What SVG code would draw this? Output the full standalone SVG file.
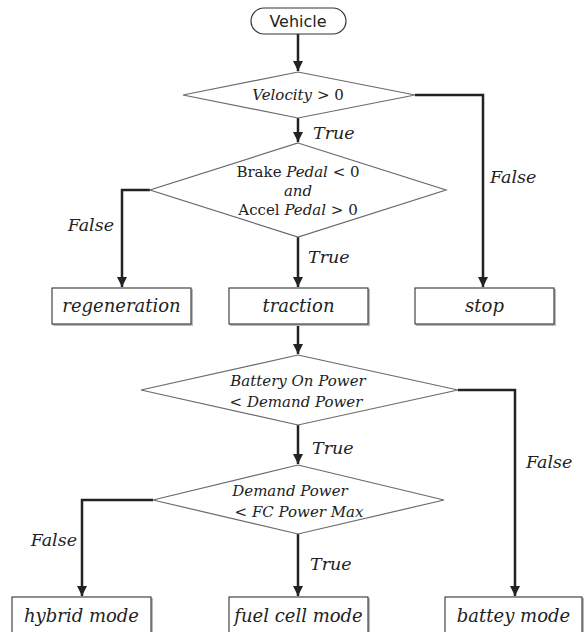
<svg xmlns="http://www.w3.org/2000/svg" width="588" height="632" viewBox="0 0 588 632">
<defs>
<marker id="ah" viewBox="0 0 10 10" refX="10" refY="5" markerWidth="4" markerHeight="4" orient="auto" markerUnits="strokeWidth">
<path d="M0,0 L10,5 L0,10 z" fill="#222"/>
</marker>
<style>
.bg{fill:#fff}
.dia{fill:#fff;stroke:#6a6a6a;stroke-width:1.2}
.box{fill:#fff;stroke:#333;stroke-width:1.1}
.sh{fill:#bbb}
.term{fill:#fff;stroke:#333;stroke-width:1.2}
.con{fill:none;stroke:#222;stroke-width:2.5;marker-end:url(#ah)}
.m{font-family:"DejaVu Serif",serif;font-style:italic;fill:#222}
.up{font-style:normal}
.bt{font-size:18px;text-anchor:middle}
.dt{font-size:15px;text-anchor:middle}
.lb{font-size:17.5px}
.sans{font-family:"DejaVu Sans",sans-serif;font-size:16px;fill:#222;text-anchor:middle}
</style>
</defs>
<rect class="bg" width="588" height="632"/>

<g id="connectors">
<path class="con" d="M298,34 V71"/>
<path class="con" d="M298,118 V142"/>
<path class="con" d="M415,95 H483 V287"/>
<path class="con" d="M150,190 H122 V287"/>
<path class="con" d="M298,237 V287"/>
<path class="con" d="M298,325 V354"/>
<path class="con" d="M458,390 H515 V596"/>
<path class="con" d="M298,425 V464"/>
<path class="con" d="M153,500 H82 V596"/>
<path class="con" d="M298,534 V596"/>
</g>

<g id="vehicle">
<rect class="term" x="251" y="8" width="95" height="26" rx="13" ry="13"/>
<text class="sans" x="298" y="27">Vehicle</text>
</g>

<g id="d-velocity">
<polygon class="dia" points="298,72 415,95 298,118 183,95"/>
<text class="m dt" x="298" y="100">Velocity <tspan class="up">&gt; 0</tspan></text>
</g>

<g id="d-pedal">
<polygon class="dia" points="298,143 446,190 298,237 150,190"/>
<text class="m dt" x="298" y="177"><tspan class="up">Brake</tspan> Pedal <tspan class="up">&lt; 0</tspan></text>
<text class="m dt" x="298" y="196">and</text>
<text class="m dt" x="298" y="215"><tspan class="up">Accel</tspan> Pedal <tspan class="up">&gt; 0</tspan></text>
</g>

<g id="regeneration">
<rect class="sh" x="53" y="289" width="140" height="37"/>
<rect class="box" x="52" y="288" width="139" height="36"/>
<text class="m bt" x="121.5" y="312">regeneration</text>
</g>
<g id="traction">
<rect class="sh" x="230" y="289" width="140" height="37"/>
<rect class="box" x="229" y="288" width="139" height="36"/>
<text class="m bt" x="298.5" y="312">traction</text>
</g>
<g id="stop">
<rect class="sh" x="416" y="289" width="140" height="37"/>
<rect class="box" x="415" y="288" width="139" height="36"/>
<text class="m bt" x="484.5" y="312">stop</text>
</g>

<g id="d-battery">
<polygon class="dia" points="298,355 458,390 298,425 141,390"/>
<text class="m dt" x="298" y="386">Battery On Power</text>
<text class="m dt" x="296" y="407"><tspan class="up">&lt;</tspan> Demand Power</text>
</g>

<g id="d-demand">
<polygon class="dia" points="298,465 444,500 298,534 153,500"/>
<text class="m dt" x="290" y="496">Demand Power</text>
<text class="m dt" x="299" y="517"><tspan class="up">&lt;</tspan> FC Power Max</text>
</g>

<g id="hybrid">
<rect class="sh" x="13" y="598" width="140" height="37"/>
<rect class="box" x="12" y="597" width="139" height="36"/>
<text class="m bt" x="81.5" y="622">hybrid mode</text>
</g>
<g id="fuelcell">
<rect class="sh" x="230" y="598" width="140" height="37"/>
<rect class="box" x="229" y="597" width="139" height="36"/>
<text class="m bt" x="298.5" y="622">fuel cell mode</text>
</g>
<g id="battey">
<rect class="sh" x="446" y="598" width="138" height="37"/>
<rect class="box" x="445" y="597" width="137" height="36"/>
<text class="m bt" x="513.5" y="622">battey mode</text>
</g>

<g id="labels">
<text class="m lb" x="313" y="139">True</text>
<text class="m lb" x="490" y="183">False</text>
<text class="m lb" x="114" y="231" text-anchor="end">False</text>
<text class="m lb" x="308" y="263">True</text>
<text class="m lb" x="312" y="454">True</text>
<text class="m lb" x="526" y="468">False</text>
<text class="m lb" x="77" y="546" text-anchor="end">False</text>
<text class="m lb" x="310" y="570">True</text>
</g>
</svg>
